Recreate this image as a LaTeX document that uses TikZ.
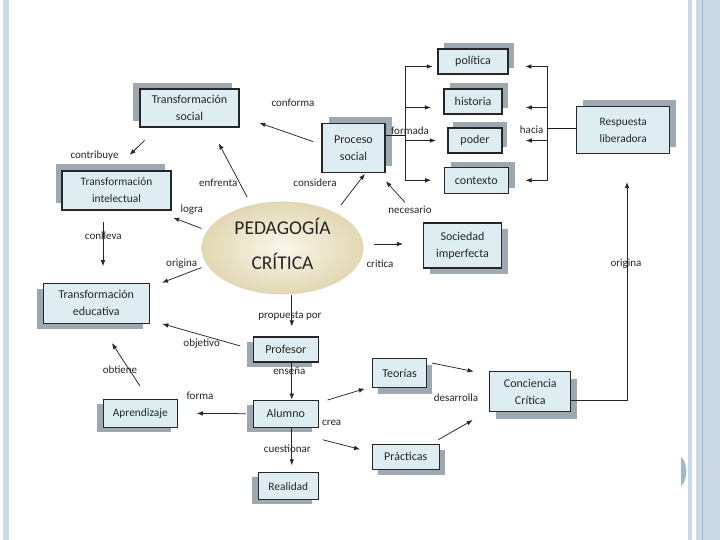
\documentclass[tikz,border=0pt]{standalone}
\usepackage{fontspec}
\setmainfont{Carlito}
\usepackage{tikz}
\usetikzlibrary{arrows.meta,shapes.geometric,shadows}

\definecolor{boxfill}{RGB}{221,237,242}
\definecolor{shadowgray}{RGB}{158,168,177}
\definecolor{ivory}{RGB}{250,247,233}
\definecolor{sand}{RGB}{226,215,180}
\definecolor{strip}{RGB}{205,217,229}
\definecolor{stripline}{RGB}{160,185,207}

\begin{document}
\begin{tikzpicture}[
  x=1pt, y=-1pt,
  cbox/.style={rectangle, draw=black!85, line width=1.1pt, fill=boxfill, inner sep=0pt,
    align=center, text=black!85, font=\fontsize{12}{17}\selectfont},
  sbox/.style={cbox, font=\fontsize{11.4}{17}\selectfont},
  shd/.style 2 args={general shadow={fill=shadowgray, shadow xshift=#1pt, shadow yshift=#2pt}},
  ped/.style={ellipse, inner color=ivory, outer color=sand, minimum width=162pt,
    minimum height=93pt, inner sep=0pt, align=center, text=black!85, text depth=8pt,
    font=\fontsize{19.5}{35}\selectfont},
  lbl/.style={font=\fontsize{11}{13}\selectfont, inner sep=0pt, text=black!85},
  arr/.style={-{Latex[length=6pt,width=4.6pt]}, line width=0.75pt, draw=black!85},
  link/.style={line width=0.9pt, draw=black!90}
]
  \useasboundingbox (0,0) rectangle (720,540);
  \fill[white] (0,0) rectangle (720,540);
  \fill[strip] (2.7,0) rectangle (9,540);
  \fill[strip] (688.3,0) rectangle (691.7,540);
  \fill[strip] (696,0) rectangle (720,540);
  \fill[stripline] (701.7,0) rectangle (703,540);
  \fill[stripline] (681,457) .. controls (688,462) and (688,481) .. (681,486) -- cycle;

  \node[cbox, shd={-7}{6}, minimum width=99pt, minimum height=38pt] (tsoc) at (189.5,108) {Transformación\\social};
  \node[cbox, shd={6.5}{6}, minimum width=63pt, minimum height=49pt] (proc) at (353.5,148) {Proceso\\social};
  \node[cbox, shd={6}{6}, minimum width=70pt, minimum height=25pt] (pol) at (473,61.5) {política};
  \node[cbox, shd={5.5}{6}, minimum width=58pt, minimum height=25pt] (hist) at (473,101.5) {historia};
  \node[cbox, shd={5}{5.5}, minimum width=54pt, minimum height=25pt] (pod) at (475,140.5) {poder};
  \node[cbox, shd={6.5}{5.5}, minimum width=64pt, minimum height=26pt] (cont) at (476.3,180.3) {contexto};
  \node[sbox, shd={6}{6}, minimum width=93pt, minimum height=47pt] (resp) at (623.3,130) {Respuesta\\liberadora};
  \node[sbox, shd={-6.5}{6.5}, minimum width=109pt, minimum height=39pt] (tint) at (116.5,190.5) {Transformación\\intelectual};
  \node[cbox, shd={-6.5}{-6}, minimum width=106pt, minimum height=40pt] (tedu) at (96.3,303.3) {Transformación\\educativa};
  \node[cbox, shd={6}{-6}, minimum width=78pt, minimum height=45pt] (soc) at (462.5,245.5) {Sociedad\\imperfecta};
  \node[ped] (ped) at (282.5,248) {PEDAGOGÍA\\CRÍTICA};
  \node[cbox, shd={-6.5}{-5}, minimum width=65pt, minimum height=25pt] (prof) at (285.8,349.5) {Profesor};
  \node[cbox, shd={-6.5}{-4.5}, minimum width=65pt, minimum height=27pt] (alum) at (285.8,413.7) {Alumno};
  \node[sbox, shd={-6}{-4.5}, minimum width=74pt, minimum height=28pt] (apr) at (140.3,413.3) {Aprendizaje};
  \node[sbox, shd={-6.5}{-4.5}, minimum width=60pt, minimum height=27pt] (real) at (288.3,486.3) {Realidad};
  \node[cbox, shd={5}{-6}, minimum width=54pt, minimum height=29pt] (teo) at (399.5,373) {Teorías};
  \node[cbox, shd={6}{-6}, minimum width=67pt, minimum height=25pt] (prac) at (405.7,456.7) {Prácticas};
  \node[cbox, shd={6.5}{-7}, minimum width=81pt, minimum height=40pt] (conc) at (530.3,391.7) {Conciencia\\Crítica};

  \node[lbl] (lconf) at (293,102.7) {conforma};
  \node[lbl] (lenf) at (218.3,182.7) {enfrenta};
  \node[lbl] (lcons) at (315,182.7) {considera};
  \node[lbl] (lnec) at (410,210) {necesario};
  \node[lbl] (lcontr) at (94.5,155.6) {contribuye};
  \node[lbl] (llog) at (191.7,209.3) {logra};
  \node[lbl] (lconl) at (103.3,236) {conlleva};
  \node[lbl] (lorig) at (181.7,263.3) {origina};
  \node[lbl] (lcrit) at (380,263.3) {critica};
  \node[lbl] (lprop) at (290,316) {propuesta por};
  \node[lbl] (lobj) at (201.7,343.3) {objetivo};
  \node[lbl] (lobt) at (120,369.3) {obtiene};
  \node[lbl] (lens) at (289.3,370.7) {enseña};
  \node[lbl] (lform) at (200,396) {forma};
  \node[lbl] (lcrea) at (331.7,423.3) {crea};
  \node[lbl] (lcuest) at (287.3,449) {cuestionar};
  \node[lbl] (ldes) at (456,397.3) {desarrolla};
  \node[lbl] (lformada) at (410,130.5) {formada};
  \node[lbl] (lhacia) at (531.7,129.3) {hacia};
  \node[lbl] (lorig2) at (626,263.3) {origina};

  \coordinate (pp) at ([xshift=6pt]prof.north);
  \coordinate (cl) at ([xshift=-13.5pt]tint.south);
  \coordinate (fx) at ([xshift=19.5pt,yshift=13pt]proc.east);
  \coordinate (hx) at ([xshift=-29pt,yshift=2pt]resp.west);

  \draw[arr, shorten <=9pt, shorten >=21pt] ([yshift=3.5pt]proc.west) -- ([yshift=-8pt]tsoc.east);
  \draw[arr, shorten <=9pt, shorten >=18pt] (ped.126) -- ([xshift=21pt]tsoc.south);
  \draw[arr, shorten <=9.5pt, shorten >=1pt] (ped.34) -- ([xshift=12pt]proc.south);
  \draw[arr, shorten <=27pt, shorten >=11pt] (soc.north west) -- ([xshift=25pt]proc.south);
  \draw[arr, shorten <=18pt, shorten >=22pt] ([xshift=-32pt]tsoc.south) -- ([xshift=-2.5pt]tint.north);
  \draw[arr, shorten <=6pt, shorten >=20pt] (ped.167) -- ([xshift=38pt]tint.south);
  \draw[arr, shorten <=11.7pt, shorten >=16.6pt] (cl) -- (cl |- tedu.north);
  \draw[arr, shorten <=6pt, shorten >=13pt] (ped.193) -- ([yshift=16pt]tedu.east);
  \draw[arr, shorten <=10pt, shorten >=20pt] ([yshift=4pt]ped.east) -- ([yshift=1.5pt]soc.west);
  \draw[arr, shorten >=10pt] (pp |- ped.south) -- (pp);
  \draw[arr, shorten <=13pt, shorten >=13pt] (prof.west) -- ([yshift=-17pt]tedu.east);
  \draw[arr, shorten <=15pt, shorten >=23pt] ([xshift=8pt]apr.north) -- ([xshift=3pt]tedu.south);
  \draw[arr] (pp |- prof.south) -- (pp |- alum.north);
  \draw[arr, shorten <=7pt, shorten >=19pt] (alum.west) -- (apr.east);
  \draw[arr, shorten <=9pt, shorten >=7.5pt] ([yshift=11pt]alum.east) -- ([yshift=-13.5pt]teo.west);
  \draw[arr, shorten <=4pt, shorten >=12pt] ([yshift=-11pt]alum.south east) -- ([yshift=4.4pt]prac.west);
  \draw[arr, shorten >=7pt] (pp |- alum.south) -- (pp |- real.north);
  \draw[arr, shorten <=5pt, shorten >=16pt] ([yshift=11pt]teo.east) -- ([yshift=17pt]conc.west);
  \draw[arr, shorten <=8pt, shorten >=19pt] ([xshift=25.6pt]prac.north) -- ([yshift=-19pt]conc.west);
  \draw[arr, shorten >=28pt] ([yshift=-9pt]conc.east) -| ([xshift=3.7pt]resp.south);

  \draw[link] ([yshift=13pt]proc.east) -- (fx);
  \draw[arr, shorten >=4.7pt] (fx) |- ([yshift=-5pt]pol.west);
  \draw[arr, shorten >=12.6pt] (fx) |- ([yshift=-6pt]hist.west);
  \draw[arr, shorten >=11.6pt] (fx) |- (pod.west);
  \draw[arr, shorten >=12.6pt] (fx) |- (cont.west);
  \draw[link] ([yshift=2pt]resp.west) -- (hx);
  \draw[arr, shorten >=16.7pt] (hx) |- ([yshift=-5pt]pol.east);
  \draw[arr, shorten >=23.3pt] (hx) |- ([yshift=-6pt]hist.east);
  \draw[arr, shorten >=23.3pt] (hx) |- (pod.east);
  \draw[arr, shorten >=16.7pt] (hx) |- (cont.east);
\end{tikzpicture}
\end{document}
